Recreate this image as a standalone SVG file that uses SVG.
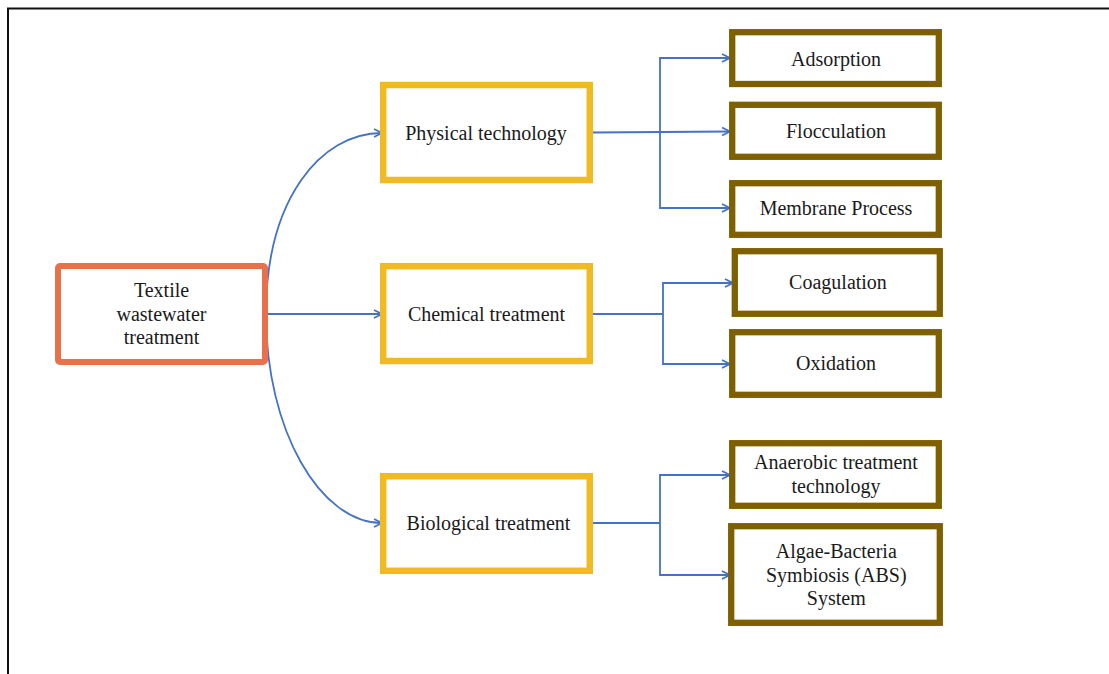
<svg xmlns="http://www.w3.org/2000/svg" width="1109" height="674" viewBox="0 0 1109 674">
<style>
text{font-family:"Liberation Serif","Times New Roman",serif;font-size:20px;fill:#1a1a1a;text-anchor:middle}
.root{fill:#fff;stroke:#E8714C;stroke-width:6}
.mid{fill:#fff;stroke:#F0BB22;stroke-width:6.5}
.leaf{fill:#fff;stroke:#7F6000;stroke-width:6.3}
.c{fill:none;stroke:#4472C4;stroke-width:1.8}
</style>
<defs>
<marker id="ah" viewBox="0 0 10 10" refX="9" refY="5" markerWidth="10" markerHeight="10" markerUnits="userSpaceOnUse" orient="auto">
<path d="M1,1 L9,5 L1,9" fill="none" stroke="#4472C4" stroke-width="1.8"/>
</marker>
</defs>
<rect width="1109" height="674" fill="#fff"/>
<path d="M8,674 L8,8.5 L1109,8.5" fill="none" stroke="#111" stroke-width="2"/>

<g id="connectors">
<path class="c" d="M266,314 C266,200 320,133 382,133" marker-end="url(#ah)"/>
<path class="c" d="M266,314 L382,314" marker-end="url(#ah)"/>
<path class="c" d="M266,314 C266,430 320,523 382,523" marker-end="url(#ah)"/>
<path class="c" d="M592,132.5 L730,131.5" marker-end="url(#ah)"/>
<path class="c" d="M660,132 L660,58 L730,58" marker-end="url(#ah)"/>
<path class="c" d="M660,132 L660,208 L730,208" marker-end="url(#ah)"/>
<path class="c" d="M592,314 L663,314"/>
<path class="c" d="M663,314 L663,283 L733,283" marker-end="url(#ah)"/>
<path class="c" d="M663,314 L663,364 L730,364" marker-end="url(#ah)"/>
<path class="c" d="M592,523 L660,523"/>
<path class="c" d="M660,523 L660,475 L730,475" marker-end="url(#ah)"/>
<path class="c" d="M660,523 L660,575 L730,575" marker-end="url(#ah)"/>
</g>

<g id="n-root">
<rect class="root" x="58" y="266" width="207" height="96" rx="2"/>
<text x="161.5" y="296.5">Textile</text>
<text x="161.5" y="320.5">wastewater</text>
<text x="161.5" y="344">treatment</text>
</g>

<g id="n-physical">
<rect class="mid" x="383.2" y="85" width="206.6" height="95"/>
<text x="486" y="139.5">Physical technology</text>
</g>
<g id="n-chemical">
<rect class="mid" x="383.2" y="266.2" width="206.6" height="94.8"/>
<text x="486.5" y="320.5">Chemical treatment</text>
</g>
<g id="n-biological">
<rect class="mid" x="383.2" y="476.2" width="206.6" height="94.6"/>
<text x="488.5" y="530">Biological treatment</text>
</g>

<g id="n-adsorption">
<rect class="leaf" x="732.2" y="32.2" width="206.6" height="51.8"/>
<text x="836" y="65.5">Adsorption</text>
</g>
<g id="n-flocculation">
<rect class="leaf" x="732.2" y="104.8" width="206.6" height="52"/>
<text x="836" y="138.3">Flocculation</text>
</g>
<g id="n-membrane">
<rect class="leaf" x="732.2" y="183.2" width="206.6" height="51.6"/>
<text x="836" y="215">Membrane Process</text>
</g>
<g id="n-coagulation">
<rect class="leaf" x="734.8" y="251.2" width="205" height="62.6"/>
<text x="838" y="289.3">Coagulation</text>
</g>
<g id="n-oxidation">
<rect class="leaf" x="732.2" y="332.2" width="206.6" height="62.6"/>
<text x="836" y="370">Oxidation</text>
</g>
<g id="n-anaerobic">
<rect class="leaf" x="732.2" y="443.2" width="206.6" height="62.6"/>
<text x="836" y="469.3">Anaerobic treatment</text>
<text x="836" y="493.3">technology</text>
</g>
<g id="n-abs">
<rect class="leaf" x="731.2" y="526.2" width="208.6" height="96.6"/>
<text x="836.3" y="558.3">Algae-Bacteria</text>
<text x="836.3" y="581.7">Symbiosis (ABS)</text>
<text x="836.3" y="605">System</text>
</g>
</svg>
